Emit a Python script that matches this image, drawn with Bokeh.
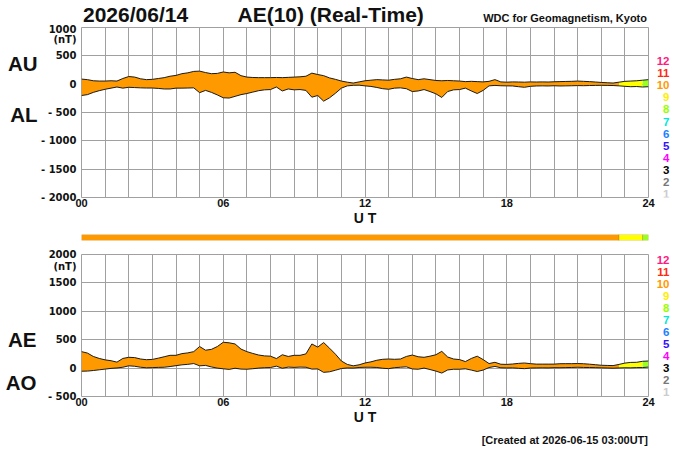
import numpy as np
from bokeh.plotting import figure
from bokeh.layouts import column, row
from bokeh.models import Range1d, FixedTicker, LinearAxis, ColumnDataSource
from bokeh.core.properties import value
from bokeh.embed import file_html
from bokeh.resources import INLINE

# ---------------- data ----------------
hours = np.arange(0, 24.001, 0.25)  # 15-minute time axis, UT hours

AU = [90, 80, 60, 55, 55, 60, 55, 100, 135, 125, 95, 80, 85, 100, 115, 140,
      155, 185, 200, 225, 230, 205, 185, 190, 215, 200, 210, 150, 125, 118, 115, 115,
      115, 118, 115, 120, 125, 130, 140, 195, 170, 150, 110, 85, 55, 35, 20, 40,
      60, 70, 80, 75, 70, 85, 95, 125, 100, 80, 95, 80, 65, 60, 65, 60,
      55, 45, 50, 45, 40, 50, 80, 40, 35, 40, 38, 35, 40, 38, 40, 38,
      42, 45, 48, 50, 55, 50, 45, 38, 30, 25, 20, 35, 50, 55, 60, 70,
      80]
AL = [-200, -185, -145, -115, -90, -70, -50, -70, -55, -60, -65, -68, -68, -75, -85, -85,
      -70, -70, -68, -65, -150, -110, -145, -190, -240, -245, -215, -185, -165, -140, -115, -100,
      -95, -50, -120, -85, -100, -95, -110, -230, -200, -300, -240, -160, -70, -30, -20, -18,
      -30, -40, -58, -80, -90, -70, -65, -80, -130, -120, -95, -130, -170, -235, -130, -100,
      -95, -70, -120, -165, -110, -30, -22, -28, -30, -32, -45, -55, -38, -32, -30, -32,
      -28, -32, -30, -28, -25, -27, -24, -22, -20, -22, -24, -30, -38, -45, -42, -50,
      -45]

AU = np.array(AU, dtype=float)
AL = np.array(AL, dtype=float)
AE = AU - AL
AO = (AU + AL) / 2.0

# number of contributing stations by time segment
station_start = [0.0, 22.75, 23.75]
station_end = [22.75, 23.75, 24.0]
station_count = [10, 9, 8]

# colour key for the number of stations
legend_numbers = [12, 11, 10, 9, 8, 7, 6, 5, 4, 3, 2, 1]
station_colors = {12: "#ff1a80", 11: "#ff2a10", 10: "#ff9900", 9: "#ffee00",
                  8: "#99ff00", 7: "#00e8d8", 6: "#1e7fff", 5: "#3311ff",
                  4: "#ff00ff", 3: "#000000", 2: "#777777", 1: "#cccccc"}
fill_colors = {10: "#ff9900", 9: "#ffff00", 8: "#99ff22"}

x_ticks = [0, 6, 12, 18, 24]
x_tick_labels = {0: "00", 6: "06", 12: "12", 18: "18", 24: "24"}
top_ticks = [1000, 500, 0, -500, -1000, -1500, -2000]
top_tick_labels = {1000: "1000", 500: "500", 0: "0", -500: "- 500",
                   -1000: "- 1000", -1500: "- 1500", -2000: "- 2000"}
bot_ticks = [2000, 1500, 1000, 500, 0, -500]
bot_tick_labels = {2000: "2000", 1500: "1500", 1000: "1000", 500: "500",
                   0: "0", -500: "- 500"}

# ---------------- layout constants (page pixels) ----------------
W = 692
LEFT = 81
FRAME_R = 648
P_RIGHT = 8
P_W = FRAME_R + P_RIGHT          # width of the data-panel figures
K_W = W - P_W                   # width of the colour-key figures
GRID = "#a0a0a0"
SANS = "Liberation Sans"
INK = "#111111"


def blank(width, height, xr, yr, **kw):
    f = figure(width=width, height=height, x_range=xr, y_range=yr, title=None,
               output_backend="svg", toolbar_location=None,
               x_axis_location=None, y_axis_location=None, **kw)
    f.grid.visible = False
    f.outline_line_color = None
    return f


def style_panel(p, yticks, ylabels, unit_pos):
    p.xaxis.ticker = FixedTicker(ticks=x_ticks)
    p.xaxis.major_label_overrides = x_tick_labels
    labels = dict(ylabels)
    labels[unit_pos] = "(nT)"
    p.yaxis.ticker = FixedTicker(ticks=yticks + [unit_pos])
    p.yaxis.major_label_overrides = labels
    p.xgrid.ticker = FixedTicker(ticks=list(range(25)))
    p.ygrid.ticker = FixedTicker(ticks=yticks)
    for g in (p.xgrid, p.ygrid):
        g.grid_line_color = GRID
        g.grid_line_width = 1
    p.outline_line_color = GRID
    p.outline_line_width = 1
    for ax in (p.xaxis, p.yaxis):
        ax.axis_line_color = None
        ax.major_tick_line_color = None
        ax.minor_tick_line_color = None
        ax.major_tick_out = 0
        ax.major_tick_in = 0
        ax.minor_tick_out = 0
        ax.minor_tick_in = 0
        ax.major_label_text_font_style = "bold"
        ax.major_label_text_color = INK
    p.yaxis.major_label_text_font = "DejaVu Sans"
    p.yaxis.major_label_text_font_size = "10px"
    p.yaxis.major_label_standoff = 5
    p.xaxis.major_label_text_font = SANS
    p.xaxis.major_label_text_font_size = "11px"
    p.xaxis.major_label_standoff = 1
    p.xaxis.axis_label = "U T"
    p.xaxis.axis_label_text_font = SANS
    p.xaxis.axis_label_text_font_size = "14px"
    p.xaxis.axis_label_text_font_style = "bold"
    p.xaxis.axis_label_text_color = INK
    p.xaxis.axis_label_standoff = 0


def name_axis(p, ticks, names, standoff):
    ax = LinearAxis(ticker=FixedTicker(ticks=ticks),
                    major_label_overrides=dict(zip(ticks, names)))
    ax.axis_line_color = None
    ax.major_tick_line_color = None
    ax.minor_tick_line_color = None
    ax.major_tick_out = 0
    ax.major_tick_in = 0
    ax.minor_tick_out = 0
    ax.minor_tick_in = 0
    ax.major_label_standoff = standoff
    ax.major_label_text_font = SANS
    ax.major_label_text_font_style = "bold"
    ax.major_label_text_font_size = "20.5px"
    ax.major_label_text_color = INK
    p.add_layout(ax, "left")


def draw_band(p, lower, upper):
    for s, e, n in zip(station_start, station_end, station_count):
        m = (hours >= s - 1e-9) & (hours <= e + 1e-9)
        p.varea(x=hours[m], y1=lower[m], y2=upper[m], fill_color=fill_colors[n])
    p.line(hours, upper, line_color="#1a1a1a", line_width=1)
    p.line(hours, lower, line_color="#1a1a1a", line_width=1)


def key_figure(height, top, bottom, frame_top, frame_bottom, first_center):
    k = blank(K_W, height, Range1d(P_W, W), Range1d(frame_bottom, frame_top),
              min_border_left=0, min_border_right=0,
              min_border_top=top, min_border_bottom=bottom,
              border_fill_color=None)
    src = ColumnDataSource(dict(
        x=[669] * len(legend_numbers),
        y=[first_center + i * 12.06 for i in range(len(legend_numbers))],
        text=[str(n) for n in legend_numbers],
        color=[station_colors[n] for n in legend_numbers]))
    k.text(x="x", y="y", text="text", source=src, text_color="color",
           text_align="right", text_baseline="middle",
           text_font=value(SANS), text_font_style="bold", text_font_size="11.5px")
    return k


def text_strip(height, top_px, **kw):
    # frame aligned with the data frames (x 81..648), pixel-mapped ranges
    return blank(W, height, Range1d(LEFT, FRAME_R), Range1d(top_px + height, top_px),
                 min_border_left=LEFT, min_border_right=W - FRAME_R,
                 min_border_top=0, min_border_bottom=0, **kw)


def put_text(f, x, y, text, size, align="left"):
    f.text(x=[x], y=[y], text=[text], text_font=value(SANS), text_font_style="bold",
           text_font_size=size, text_align=align, text_baseline="middle",
           text_color=INK)


# ---------------- header (its lowest 4 px sit under the top panel's border) ----------------
HDR_H = 27
HDR_OVERLAP = 4
hdr = text_strip(HDR_H, 0, margin=(0, 0, -HDR_OVERLAP, 0))
put_text(hdr, 82.5, 14.2, "2026/06/14", "21px")
put_text(hdr, 237, 14.2, "AE(10) (Real-Time)", "21px")
put_text(hdr, 646.5, 17.9, "WDC for Geomagnetism, Kyoto", "11px", align="right")

# ---------------- top panel: AU / AL ----------------
P1_TOP = 4
P1_H = P1_TOP + 170 + 34
p1 = figure(width=P_W, height=P1_H, x_range=Range1d(0, 24), y_range=Range1d(-2000, 1000),
            output_backend="svg", toolbar_location=None, title=None,
            border_fill_color=None,
            min_border_left=LEFT, min_border_right=P_RIGHT,
            min_border_top=P1_TOP, min_border_bottom=34)
style_panel(p1, top_ticks, top_tick_labels, 780)
name_axis(p1, [370, -530], ["AU", "AL"], 1)
draw_band(p1, AL, AU)
k1 = key_figure(P1_H, P1_TOP, 34, 27, 197, 60.7)

# ---------------- station colour bar ----------------
pbar = figure(width=W, height=16, x_range=Range1d(0, 24), y_range=Range1d(0, 1),
              output_backend="svg", toolbar_location=None, title=None,
              x_axis_location=None, y_axis_location=None,
              min_border_left=LEFT, min_border_right=W - FRAME_R,
              min_border_top=3, min_border_bottom=7)
pbar.grid.visible = False
pbar.outline_line_color = None
pbar.quad(left=station_start, right=station_end, bottom=0, top=1,
          fill_color=[fill_colors[n] for n in station_count],
          line_color="#b07010", line_alpha=0.6, line_width=0.6)

# ---------------- bottom panel: AE / AO ----------------
P2_H = 181
p2 = figure(width=P_W, height=P2_H, x_range=Range1d(0, 24), y_range=Range1d(-500, 2000),
            output_backend="svg", toolbar_location=None, title=None,
            min_border_left=LEFT, min_border_right=P_RIGHT,
            min_border_top=7, min_border_bottom=P2_H - 7 - 142)
style_panel(p2, bot_ticks, bot_tick_labels, 1780)
name_axis(p2, [500, -260], ["AE", "AO"], 8)
draw_band(p2, AO, AE)
k2 = key_figure(P2_H, 7, P2_H - 7 - 142, 254, 396, 259.0)

# ---------------- footer ----------------
FOOT_TOP = HDR_H - HDR_OVERLAP + P1_H + 16 + P2_H
FOOT_H = 450 - FOOT_TOP
foot = text_strip(FOOT_H, FOOT_TOP)
put_text(foot, 647.5, 439.6, "[Created at 2026-06-15 03:00UT]", "11px", align="right")

layout = column(hdr, row(p1, k1, spacing=0), pbar, row(p2, k2, spacing=0), foot, spacing=0)
open("out.html", "w").write(file_html(layout, INLINE))
